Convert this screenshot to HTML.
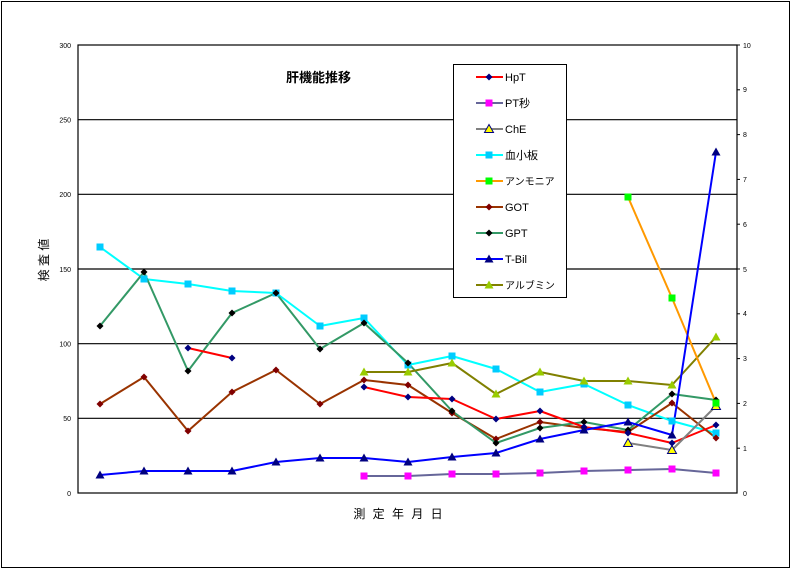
<!DOCTYPE html>
<html><head><meta charset="utf-8"><style>
html,body{margin:0;padding:0;background:#fff;}
svg{display:block;font-family:"Liberation Sans","Noto Sans CJK JP",sans-serif;}
</style></head><body>
<svg width="794" height="570" viewBox="0 0 794 570" xmlns="http://www.w3.org/2000/svg">
<defs>
<path id="dm" d="M0,-3.5 L3.5,0 L0,3.5 L-3.5,0Z"/>
<rect id="sq" x="-3.5" y="-3.5" width="7" height="7"/>
<path id="tr" d="M0,-4.5 L4.5,3.5 L-4.5,3.5Z"/>
</defs>
<rect x="1.5" y="1.5" width="788" height="566" fill="#fff" stroke="#000" stroke-width="1"/>
<g stroke="#000" stroke-width="1.2">
<line x1="78" y1="119.7" x2="737" y2="119.7"/>
<line x1="78" y1="194.3" x2="737" y2="194.3"/>
<line x1="78" y1="269" x2="737" y2="269"/>
<line x1="78" y1="343.7" x2="737" y2="343.7"/>
<line x1="78" y1="418.3" x2="737" y2="418.3"/>
</g>
<rect x="78" y="45" width="659" height="448" fill="none" stroke="#000" stroke-width="1.2"/>
<g font-size="7" text-anchor="end" fill="#000">
<text x="71" y="48">300</text><text x="71" y="122.5">250</text><text x="71" y="197">200</text>
<text x="71" y="272">150</text><text x="71" y="346.5">100</text><text x="71" y="421">50</text><text x="71" y="496">0</text>
</g>
<g font-size="7" fill="#000">
<text x="743" y="48">10</text><text x="743" y="92">9</text><text x="743" y="137">8</text><text x="743" y="182">7</text>
<text x="743" y="227">6</text><text x="743" y="272">5</text><text x="743" y="316">4</text><text x="743" y="361">3</text>
<text x="743" y="406">2</text><text x="743" y="451">1</text><text x="743" y="496">0</text>
</g>
<g stroke="#000"><line x1="737" y1="45" x2="740" y2="45"/><line x1="737" y1="89.8" x2="740" y2="89.8"/><line x1="737" y1="134.6" x2="740" y2="134.6"/><line x1="737" y1="179.4" x2="740" y2="179.4"/><line x1="737" y1="224.2" x2="740" y2="224.2"/><line x1="737" y1="269" x2="740" y2="269"/><line x1="737" y1="313.8" x2="740" y2="313.8"/><line x1="737" y1="358.6" x2="740" y2="358.6"/><line x1="737" y1="403.4" x2="740" y2="403.4"/><line x1="737" y1="448.2" x2="740" y2="448.2"/></g>
<text x="286" y="82" font-size="13" font-weight="bold">肝機能推移</text>
<text transform="translate(48,260) rotate(-90)" font-size="12" text-anchor="middle">検 査 値</text>
<text x="399" y="518" font-size="12" text-anchor="middle" letter-spacing="2">測 定 年 月 日</text>

<g fill="none" stroke-width="2" stroke-linejoin="round">
<polyline stroke="#00ffff" points="100,247 144,279 188,284 232,291 276,293 320,326 364,318 408,365 452,356 496,369 540,392 584,384 628,405 672,421 716,433"/>
<polyline stroke="#993300" points="100,404 144,377 188,431 232,392 276,370 320,404 364,380 408,385 452,413 496,439 540,422 584,428 628,432 672,403 716,438"/>
<polyline stroke="#339966" points="100,326 144,272 188,371 232,313 276,293 320,349 364,323 408,363 452,411 496,443 540,428 584,422 628,430 672,394 716,400"/>
<polyline stroke="#808000" points="364,372 408,372 452,363 496,394 540,372 584,381 628,381 672,385 716,337"/>
<polyline stroke="#ff0000" points="188,348 232,358"/>
<polyline stroke="#ff0000" points="364,387 408,397 452,399 496,419 540,411 584,427 628,433 672,443 716,425"/>
<polyline stroke="#666699" points="364,476 408,476 452,474 496,474 540,473 584,471 628,470 672,469 716,473"/>
<polyline stroke="#808080" points="628,443 672,450 716,406"/>
<polyline stroke="#ff9900" points="628,197 672,298 716,403"/>
<polyline stroke="#0000ff" points="100,475 144,471 188,471 232,471 276,462 320,458 364,458 408,462 452,457 496,453 540,439 584,430 628,422 672,435 716,152"/>
</g>
<g fill="#00ccff"><use href="#sq" x="100" y="247"/><use href="#sq" x="144" y="279"/><use href="#sq" x="188" y="284"/><use href="#sq" x="232" y="291"/><use href="#sq" x="276" y="293"/><use href="#sq" x="320" y="326"/><use href="#sq" x="364" y="318"/><use href="#sq" x="408" y="365"/><use href="#sq" x="452" y="356"/><use href="#sq" x="496" y="369"/><use href="#sq" x="540" y="392"/><use href="#sq" x="584" y="384"/><use href="#sq" x="628" y="405"/><use href="#sq" x="672" y="421"/><use href="#sq" x="716" y="433"/></g>
<g fill="#800000"><use href="#dm" x="100" y="404"/><use href="#dm" x="144" y="377"/><use href="#dm" x="188" y="431"/><use href="#dm" x="232" y="392"/><use href="#dm" x="276" y="370"/><use href="#dm" x="320" y="404"/><use href="#dm" x="364" y="380"/><use href="#dm" x="408" y="385"/><use href="#dm" x="452" y="413"/><use href="#dm" x="496" y="439"/><use href="#dm" x="540" y="422"/><use href="#dm" x="584" y="428"/><use href="#dm" x="628" y="432"/><use href="#dm" x="672" y="403"/><use href="#dm" x="716" y="438"/></g>
<g fill="#000"><use href="#dm" x="100" y="326"/><use href="#dm" x="144" y="272"/><use href="#dm" x="188" y="371"/><use href="#dm" x="232" y="313"/><use href="#dm" x="276" y="293"/><use href="#dm" x="320" y="349"/><use href="#dm" x="364" y="323"/><use href="#dm" x="408" y="363"/><use href="#dm" x="452" y="411"/><use href="#dm" x="496" y="443"/><use href="#dm" x="540" y="428"/><use href="#dm" x="584" y="422"/><use href="#dm" x="628" y="430"/><use href="#dm" x="672" y="394"/><use href="#dm" x="716" y="400"/></g>
<g fill="#99cc00"><use href="#tr" x="364" y="372"/><use href="#tr" x="408" y="372"/><use href="#tr" x="452" y="363"/><use href="#tr" x="496" y="394"/><use href="#tr" x="540" y="372"/><use href="#tr" x="584" y="381"/><use href="#tr" x="628" y="381"/><use href="#tr" x="672" y="385"/><use href="#tr" x="716" y="337"/></g>
<g fill="#000080"><use href="#dm" x="188" y="348"/><use href="#dm" x="232" y="358"/><use href="#dm" x="364" y="387"/><use href="#dm" x="408" y="397"/><use href="#dm" x="452" y="399"/><use href="#dm" x="496" y="419"/><use href="#dm" x="540" y="411"/><use href="#dm" x="584" y="427"/><use href="#dm" x="628" y="433"/><use href="#dm" x="672" y="443"/><use href="#dm" x="716" y="425"/></g>
<g fill="#ff00ff"><use href="#sq" x="364" y="476"/><use href="#sq" x="408" y="476"/><use href="#sq" x="452" y="474"/><use href="#sq" x="496" y="474"/><use href="#sq" x="540" y="473"/><use href="#sq" x="584" y="471"/><use href="#sq" x="628" y="470"/><use href="#sq" x="672" y="469"/><use href="#sq" x="716" y="473"/></g>
<g fill="#ffff00" stroke="#000080" stroke-width="1"><use href="#tr" x="628" y="443"/><use href="#tr" x="672" y="450"/><use href="#tr" x="716" y="406"/></g>
<g fill="#00ff00"><use href="#sq" x="628" y="197"/><use href="#sq" x="672" y="298"/><use href="#sq" x="716" y="403"/></g>
<g fill="#000080"><use href="#tr" x="100" y="475"/><use href="#tr" x="144" y="471"/><use href="#tr" x="188" y="471"/><use href="#tr" x="232" y="471"/><use href="#tr" x="276" y="462"/><use href="#tr" x="320" y="458"/><use href="#tr" x="364" y="458"/><use href="#tr" x="408" y="462"/><use href="#tr" x="452" y="457"/><use href="#tr" x="496" y="453"/><use href="#tr" x="540" y="439"/><use href="#tr" x="584" y="430"/><use href="#tr" x="628" y="422"/><use href="#tr" x="672" y="435"/><use href="#tr" x="716" y="152"/></g>

<rect x="453.5" y="64.5" width="113" height="233" fill="#fff" stroke="#000" stroke-width="1"/>
<g stroke-width="2">
<line x1="476" y1="77" x2="503" y2="77" stroke="#ff0000"/>
<line x1="476" y1="103" x2="503" y2="103" stroke="#666699"/>
<line x1="476" y1="129" x2="503" y2="129" stroke="#808080"/>
<line x1="476" y1="155" x2="503" y2="155" stroke="#00ffff"/>
<line x1="476" y1="181" x2="503" y2="181" stroke="#ff9900"/>
<line x1="476" y1="207" x2="503" y2="207" stroke="#993300"/>
<line x1="476" y1="233" x2="503" y2="233" stroke="#339966"/>
<line x1="476" y1="259" x2="503" y2="259" stroke="#0000ff"/>
<line x1="476" y1="285" x2="503" y2="285" stroke="#808000"/>
</g>
<use href="#dm" x="489" y="77" fill="#000080"/>
<use href="#sq" x="489" y="103" fill="#ff00ff"/>
<use href="#tr" x="489" y="129" fill="#ffff00" stroke="#000080"/>
<use href="#sq" x="489" y="155" fill="#00ccff"/>
<use href="#sq" x="489" y="181" fill="#00ff00"/>
<use href="#dm" x="489" y="207" fill="#800000"/>
<use href="#dm" x="489" y="233" fill="#000"/>
<use href="#tr" x="489" y="259" fill="#000080"/>
<use href="#tr" x="489" y="285" fill="#99cc00"/>
<g font-size="11" fill="#000">
<text x="505" y="81">HpT</text><text x="505" y="107">PT秒</text><text x="505" y="133">ChE</text>
<text x="505" y="159">血小板</text><text x="505" y="185" font-size="10">アンモニア</text><text x="505" y="211">GOT</text>
<text x="505" y="237">GPT</text><text x="505" y="263">T-Bil</text><text x="505" y="289" font-size="10">アルブミン</text>
</g>
</svg>
</body></html>
